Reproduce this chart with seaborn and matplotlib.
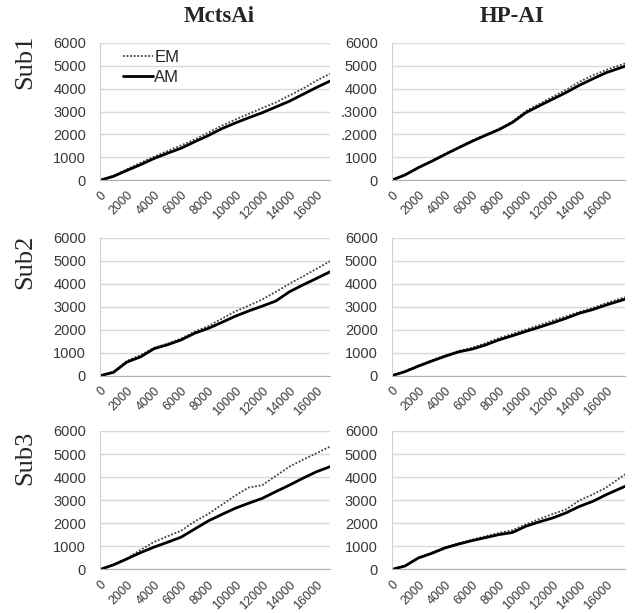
import numpy as np
import pandas as pd
import matplotlib
matplotlib.use("Agg")
import matplotlib.pyplot as plt
import seaborn as sns

# x positions (games played) for each column
x_mcts = [0, 1000, 2000, 3000, 4000, 5000, 6000, 7000, 8000, 9000,
          10000, 11000, 12000, 13000, 14000, 15000, 16000, 17000]
x_hpai = [0, 1000, 2000, 3000, 4000, 5000, 6000, 7000, 8000, 9000,
          10000, 11000, 12000, 13000, 14000, 15000, 16000, 17400]

# MctsAi column
mcts_sub1_em = [0, 200, 480, 760, 1030, 1280, 1520, 1780, 2080, 2380, 2650, 2900, 3150, 3400, 3700, 4000, 4350, 4650]
mcts_sub1_am = [0, 170, 430, 680, 950, 1180, 1400, 1680, 1950, 2250, 2500, 2730, 2950, 3200, 3450, 3750, 4050, 4330]
mcts_sub2_em = [0, 180, 650, 900, 1220, 1400, 1620, 1920, 2160, 2480, 2800, 3050, 3320, 3650, 4000, 4320, 4650, 4980]
mcts_sub2_am = [0, 150, 600, 820, 1180, 1350, 1560, 1850, 2060, 2320, 2590, 2820, 3030, 3250, 3650, 3950, 4230, 4520]
mcts_sub3_em = [0, 210, 480, 850, 1190, 1440, 1680, 2080, 2400, 2800, 3200, 3550, 3650, 4050, 4450, 4750, 5030, 5320]
mcts_sub3_am = [0, 200, 460, 730, 970, 1180, 1400, 1750, 2100, 2380, 2650, 2870, 3080, 3370, 3650, 3950, 4230, 4450]

# HP-AI column
hpai_sub1_em = [0, 240, 570, 850, 1160, 1440, 1740, 1990, 2250, 2560, 3020, 3330, 3640, 3950, 4300, 4580, 4820, 5100]
hpai_sub1_am = [0, 230, 550, 830, 1130, 1420, 1700, 1960, 2210, 2520, 2950, 3250, 3540, 3830, 4150, 4430, 4700, 4980]
hpai_sub2_em = [0, 200, 450, 680, 890, 1080, 1220, 1420, 1640, 1820, 2010, 2200, 2400, 2580, 2780, 2950, 3160, 3420]
hpai_sub2_am = [0, 180, 420, 640, 850, 1040, 1160, 1340, 1560, 1740, 1930, 2110, 2300, 2500, 2720, 2880, 3080, 3330]
hpai_sub3_em = [0, 160, 510, 730, 970, 1140, 1290, 1440, 1580, 1700, 1950, 2180, 2400, 2600, 2990, 3250, 3550, 4120]
hpai_sub3_am = [0, 150, 500, 700, 935, 1100, 1250, 1380, 1510, 1600, 1870, 2060, 2230, 2450, 2730, 2950, 3240, 3600]

col_titles = ["MctsAi", "HP-AI"]
row_titles = ["Sub1", "Sub2", "Sub3"]
x_ticks = [0, 2000, 4000, 6000, 8000, 10000, 12000, 14000, 16000]
y_ticks = [0, 1000, 2000, 3000, 4000, 5000, 6000]

panels = [
    [(x_mcts, mcts_sub1_em, mcts_sub1_am), (x_hpai, hpai_sub1_em, hpai_sub1_am)],
    [(x_mcts, mcts_sub2_em, mcts_sub2_am), (x_hpai, hpai_sub2_em, hpai_sub2_am)],
    [(x_mcts, mcts_sub3_em, mcts_sub3_am), (x_hpai, hpai_sub3_em, hpai_sub3_am)],
]

sns.set_style("white")
plt.rcParams['font.family'] = ['Liberation Sans', 'DejaVu Sans']

fig = plt.figure(figsize=(6.43, 6.13), dpi=100)

col_x = [(0.1555, 0.513), (0.609, 0.972)]
row_y = [(0.706, 0.930), (0.387, 0.612), (0.071, 0.297)]

for r in range(3):
    for c in range(2):
        xs, em, am = panels[r][c]
        x0, x1 = col_x[c]
        y0, y1 = row_y[r]
        ax = fig.add_axes([x0, y0, x1 - x0, y1 - y0])
        df = pd.DataFrame({"x": xs * 2, "y": em + am,
                           "series": ["EM"] * len(xs) + ["AM"] * len(xs)})
        sns.lineplot(data=df[df.series == "EM"], x="x", y="y", ax=ax,
                     color="#404040", linewidth=1.3, linestyle=(0, (1, 1)), label="EM")
        sns.lineplot(data=df[df.series == "AM"], x="x", y="y", ax=ax,
                     color="black", linewidth=2.0, label="AM")
        ax.set_xlim(0, xs[-1])
        ax.set_ylim(0, 6000)
        ax.set_xticks(x_ticks)
        ax.set_xticklabels([str(t) for t in x_ticks], rotation=45, ha="right",
                           rotation_mode="anchor", fontsize=9, color="#383838")
        ax.set_yticks(y_ticks)
        ylabels = [str(t) for t in y_ticks]
        if r == 0 and c == 1:
            ylabels[2] = ".2000"
            ylabels[3] = ".3000"
        ax.set_yticklabels(ylabels, fontsize=10.5, color="#383838")
        ax.set_xlabel("")
        ax.set_ylabel("")
        ax.grid(axis="y", color="#d9d9d9", linewidth=1)
        for s in ["top", "right"]:
            ax.spines[s].set_visible(False)
        ax.spines["left"].set_color("#d0d0d0")
        ax.spines["bottom"].set_color("#b0b0b0")
        ax.tick_params(axis="x", length=4, color="#b0b0b0", pad=2.5)
        ax.tick_params(axis="y", length=0, pad=10)
        if r == 0 and c == 0:
            ax.legend(loc="upper left", frameon=False, fontsize=12, handlelength=1.8,
                      handletextpad=0.1, labelspacing=0.3, borderaxespad=0.0,
                      bbox_to_anchor=(0.07, 1.0))
        else:
            ax.get_legend().remove()

for c, t in enumerate(col_titles):
    fig.text(sum(col_x[c]) / 2 + 0.006, 0.973, t, ha="center", va="center",
             fontsize=16.5, fontweight="bold", family=["Liberation Serif", "DejaVu Serif"])

row_centers = [1 - 62 / 613, 1 - 262 / 613, 1 - 458 / 613]
for r, t in enumerate(row_titles):
    fig.text(0.04, row_centers[r], t, ha="center", va="center", rotation=90,
             fontsize=19, family=["Liberation Serif", "DejaVu Serif"])

fig.savefig("out.png", dpi=100)
